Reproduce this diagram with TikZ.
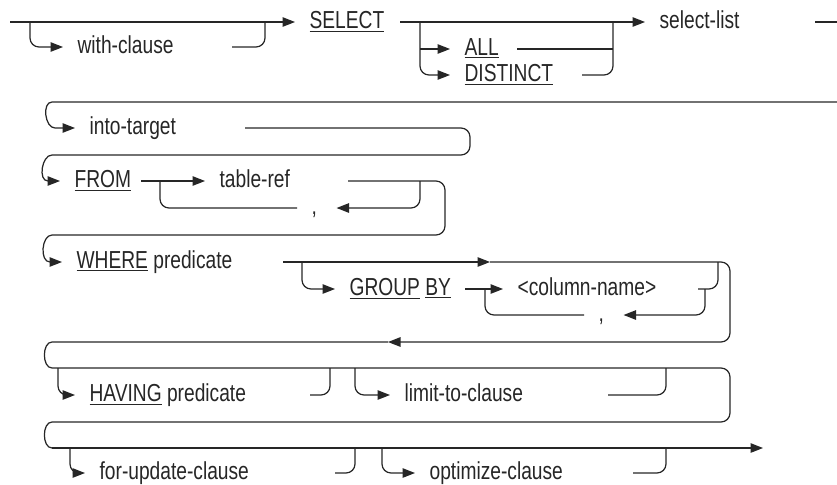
\documentclass[tikz,border=0pt]{standalone}
\usepackage{fontspec}
\newfontfamily\rrfont[FakeStretch=0.78]{Liberation Sans}
\usetikzlibrary{arrows.meta}

\begin{document}
\begin{tikzpicture}[x=0.02cm, y=-0.02cm, line width=0.7pt, color=black!85,
    >={Triangle[length=0.25cm,width=0.19cm]},
    item/.style={anchor=west, inner xsep=0.28cm, inner ysep=0pt,
        text height=0.72em, text depth=0pt,
        font=\rrfont\fontsize{14}{16}\selectfont},
    turn/.style={rounded corners=0.18cm}]
    \useasboundingbox (0,0) rectangle (837,484);

    % Row 1: SELECT
    \node[item] (with) at (63,47) {with-clause};
    \node[item] (select) at (295,22) {\underline{SELECT}};
    \node[item] (all) at (450,49) {\underline{ALL}};
    \node[item] (distinct) at (450,75) {\underline{DISTINCT}};
    \node[item] (sellist) at (645,22) {select-list};
    \draw[->] (10,22) -- (select.west);
    \draw[->, turn] (30,22) |- (with.west);
    \draw[turn] (232,47) -| (265,22);
    \draw[->] (400,22) -- (sellist.west);
    \draw[->, turn] (420,22) |- (distinct.west);
    \draw[->] (420,49) -- (all.west);
    \draw (517,49) -- (613,49);
    \draw[turn] (582,75) -| (613,22);
    \draw (815,22) -- (837,22);

    % Row 2: into-target
    \node[item] (into) at (75,128) {into-target};
    \draw[->] (837,102) -- (52,102) to[out=180,in=180] (55,128) -- (into.west);

    % Row 3: FROM
    \node[item] (fromkw) at (60,181) {\underline{FROM}};
    \node[item] (tref) at (205,181) {table-ref};
    \node[item] (comma1) at (297,208) {,};
    \draw[turn] (245,128) -- (470,128) -- (470,155) -- (52,155);
    \draw[->] (52,155) to[out=180,in=180] (48,181) -- (fromkw.west);
    \draw[->] (141,181) -- (tref.west);
    \draw[turn] (160,181) |- (comma1.west);
    \draw[->, turn] (420,181) |- ([xshift=0.1cm]comma1.east);

    % Row 4: WHERE and GROUP BY
    \node[item] (where) at (62,262) {\underline{WHERE} predicate};
    \node[item] (groupby) at (335,289) {\underline{GROUP} \underline{BY}};
    \node[item] (colname) at (503,289) {<column-name>};
    \node[item] (comma2) at (584,315) {,};
    \draw[turn] (348,181) -- (445,181) -- (445,235) -- (52,235);
    \draw[->] (52,235) to[out=180,in=180] (50,262) -- (where.west);
    \draw[->] (283,262) -- (490,262);
    \draw[->, turn] (302,262) |- (groupby.west);
    \draw[->] (465,289) -- (colname.west);
    \draw[turn] (485,289) |- (comma2.west);
    \draw[->, turn] (705,289) |- ([xshift=0.1cm]comma2.east);
    \draw[turn] (698,289) -| (718,262);
    \draw[->, turn] (490,262) -- (730,262) -- (730,342) -- (388,342);

    % Row 5: HAVING and LIMIT TO
    \node[item] (having) at (75,395) {\underline{HAVING} predicate};
    \node[item] (limit) at (390,395) {limit-to-clause};
    \draw (388,342) -- (52,342) to[out=180,in=180] (52,368);
    \draw[turn] (52,368) -- (730,368) -- (730,422) -- (52,422);
    \draw[->, turn] (58,368) |- (having.west);
    \draw[turn] (310,395) -| (330,368);
    \draw[->, turn] (355,368) |- (limit.west);
    \draw[turn] (608,395) -| (666,368);

    % Row 6: FOR UPDATE and OPTIMIZE
    \node[item] (forupd) at (85,473) {for-update-clause};
    \node[item] (optim) at (415,473) {optimize-clause};
    \draw (52,422) to[out=180,in=180] (52,448);
    \draw[->] (52,448) -- (763,448);
    \draw[->, turn] (70,448) |- (forupd.west);
    \draw[turn] (335,473) -| (355,448);
    \draw[->, turn] (382,448) |- (optim.west);
    \draw[turn] (633,473) -| (666,448);
\end{tikzpicture}
\end{document}
